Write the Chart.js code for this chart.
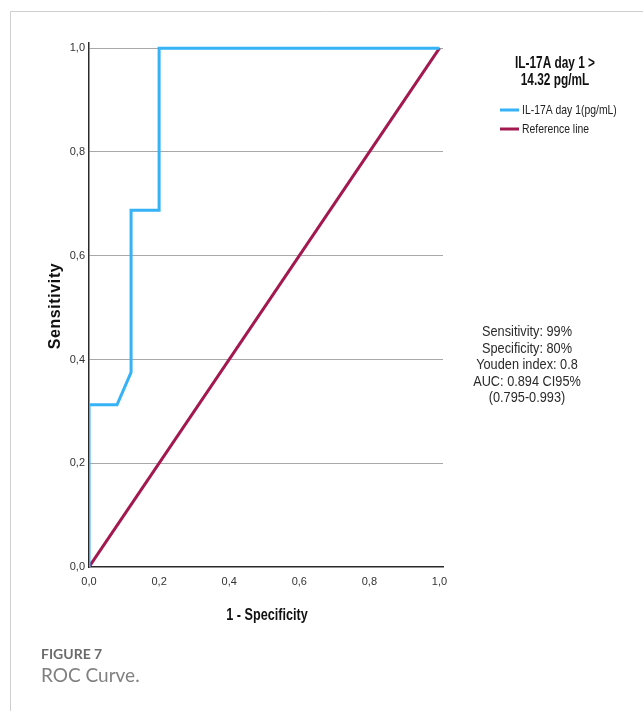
<!DOCTYPE html>
<html>
<head>
<meta charset="utf-8">
<script src="https://cdn.jsdelivr.net/npm/chart.js@4/dist/chart.umd.min.js"></script>
<style>
  html, body { margin: 0; padding: 0; background: #fff; }
  #wrap { position: relative; width: 643px; height: 711px; }
  canvas { display: block; }
</style>
</head>
<body>
<div id="wrap"><canvas id="roc" width="643" height="711"></canvas></div>
<script>
// ROC curve for IL-17A on day 1 (false positive rate vs. true positive rate)
const rocFpr = [0, 0, 0.08, 0.12, 0.12, 0.2, 0.2, 1.0];
const rocTpr = [0, 0.3125, 0.3125, 0.375, 0.6875, 0.6875, 1.0, 1.0];
// Chance diagonal
const refX = [0, 1];
const refY = [0, 1];
// Axis ticks
const xTicks = [0, 0.2, 0.4, 0.6, 0.8, 1.0];
const yTicks = [0, 0.2, 0.4, 0.6, 0.8, 1.0];

const legendTitle = ['IL-17A day 1 >', '14.32 pg/mL'];
const seriesNames = ['IL-17A day 1(pg/mL)', 'Reference line'];
const statLines = ['Sensitivity: 99%', 'Specificity: 80%', 'Youden index: 0.8', 'AUC: 0.894 CI95%', '(0.795-0.993)'];

const BLUE = '#36b2f7';
const CRIMSON = '#a2184f';
const SANS = '"Liberation Sans", Arial, sans-serif';

const fmt = v => v.toFixed(1).replace('.', ',');

// draw text squeezed horizontally to get a condensed face
function narrowText(c, text, x, y, sx) {
  c.save();
  c.translate(x, y);
  c.scale(sx, 1);
  c.fillText(text, 0, 0);
  c.restore();
}

const decor = {
  id: 'decor',
  beforeDraw(chart) {
    const c = chart.ctx;
    c.save();
    // page frame
    c.strokeStyle = '#cfcfcf';
    c.lineWidth = 1;
    c.beginPath();
    c.moveTo(10.5, 711);
    c.lineTo(10.5, 11.5);
    c.lineTo(643, 11.5);
    c.stroke();
    c.restore();
  },
  afterDraw(chart) {
    const c = chart.ctx;
    c.save();
    c.fillStyle = '#111';
    c.textAlign = 'center';
    c.textBaseline = 'middle';

    // axis titles
    c.font = 'bold 16px ' + SANS;
    narrowText(c, '1 - Specificity', 267, 616, 0.79);
    c.save();
    c.translate(56, 306);
    c.rotate(-Math.PI / 2);
    c.font = 'bold 16px ' + SANS;
    c.letterSpacing = '0.6px';
    c.fillText('Sensitivity', 0, 0);
    c.restore();

    // legend
    c.font = 'bold 16px ' + SANS;
    narrowText(c, legendTitle[0], 555, 64, 0.74);
    narrowText(c, legendTitle[1], 555, 81, 0.74);
    const colors = [BLUE, CRIMSON];
    c.font = '13px ' + SANS;
    c.textAlign = 'left';
    seriesNames.forEach((name, i) => {
      const y = 110 + i * 19;
      c.strokeStyle = colors[i];
      c.lineWidth = 3;
      c.beginPath();
      c.moveTo(500, y);
      c.lineTo(519, y);
      c.stroke();
      c.fillStyle = '#222';
      narrowText(c, name, 522, y, 0.8);
    });

    // summary statistics
    c.textAlign = 'center';
    c.fillStyle = '#2a2a2a';
    c.font = '15px ' + SANS;
    statLines.forEach((t, i) => narrowText(c, t, 527, 332 + i * 16.5, 0.85));

    // figure caption
    c.textAlign = 'left';
    c.fillStyle = '#6b6b6b';
    c.font = 'bold 14px Lato, "Open Sans", sans-serif';
    c.fillText('FIGURE 7', 41, 654);
    c.fillStyle = '#808080';
    c.font = '19px Lato, "Open Sans", sans-serif';
    c.fillText('ROC Curve.', 41, 676);
    c.restore();
  }
};

new Chart(document.getElementById('roc'), {
  type: 'line',
  data: {
    datasets: [
      {
        label: seriesNames[0],
        data: rocFpr.map((x, i) => ({ x, y: rocTpr[i] })),
        borderColor: BLUE,
        borderWidth: 3,
        pointRadius: 0,
        tension: 0,
        fill: false,
        borderJoinStyle: 'miter'
      },
      {
        label: seriesNames[1],
        data: refX.map((x, i) => ({ x, y: refY[i] })),
        borderColor: CRIMSON,
        borderWidth: 3,
        pointRadius: 0,
        fill: false
      }
    ]
  },
  options: {
    responsive: false,
    animation: false,
    events: [],
    layout: { padding: { left: 0, right: 200, top: 43, bottom: 0 } },
    plugins: { legend: { display: false }, tooltip: { enabled: false } },
    scales: {
      x: {
        type: 'linear',
        min: 0,
        max: 1.01,
        afterBuildTicks: s => { s.ticks = xTicks.map(v => ({ value: v })); },
        afterFit: s => { s.height = 144; },
        grid: { display: false, drawTicks: false },
        border: { display: true, color: '#2a2a2a', width: 1.5 },
        ticks: {
          padding: 8,
          color: '#333',
          font: { family: SANS, size: 11 },
          callback: v => fmt(v),
          maxRotation: 0
        }
      },
      y: {
        type: 'linear',
        min: 0,
        max: 1.01,
        afterBuildTicks: s => { s.ticks = yTicks.map(v => ({ value: v })); },
        afterFit: s => { s.width = 89; },
        grid: {
          display: true,
          drawTicks: false,
          color: ctx => (ctx.tick && ctx.tick.value === 0) ? 'rgba(0,0,0,0)' : '#a8a8a8',
          lineWidth: 1
        },
        border: { display: true, color: '#2a2a2a', width: 1.5 },
        ticks: {
          padding: 4,
          color: '#333',
          font: { family: SANS, size: 11 },
          callback: v => fmt(v)
        }
      }
    }
  },
  plugins: [decor]
});
</script>
</body>
</html>
